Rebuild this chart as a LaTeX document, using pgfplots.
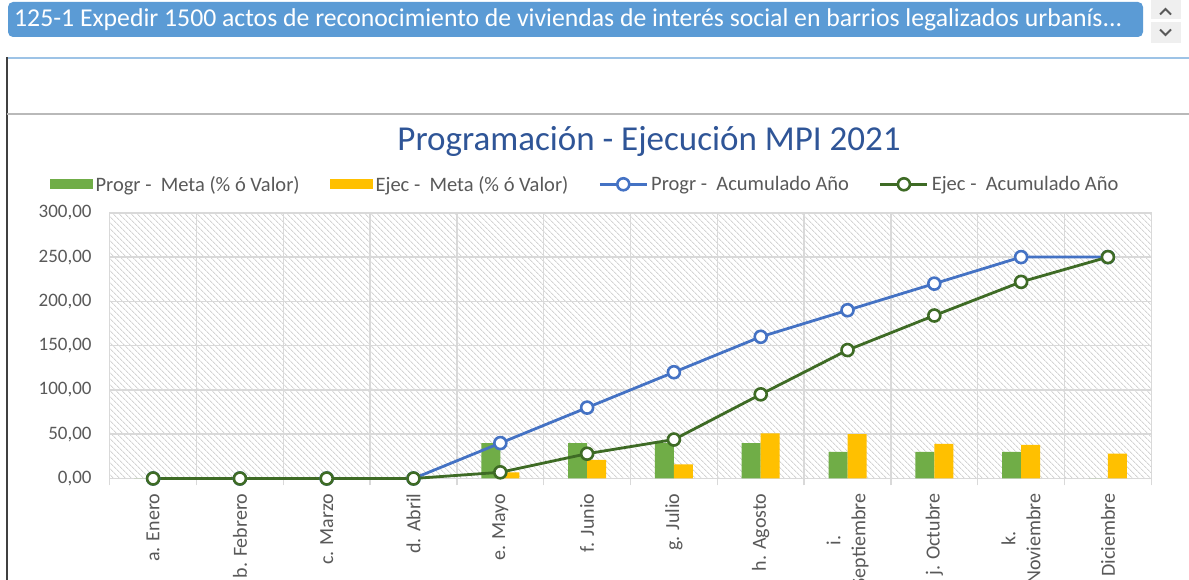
\documentclass[border=0pt]{standalone}
\usepackage{pgfplots}
\pgfplotsset{compat=1.18}
\usepackage{fontspec}
\setmainfont{Carlito}
\usetikzlibrary{patterns.meta}
\definecolor{barGreen}{HTML}{70AD47}
\definecolor{barYellow}{HTML}{FFC000}
\definecolor{lnBlue}{HTML}{4472C4}
\definecolor{lnGreen}{HTML}{3E6B25}
\definecolor{titleBlue}{HTML}{2F5597}
\definecolor{headBlue}{HTML}{5B9BD5}
\definecolor{sepBlue}{HTML}{9DC3E6}
\definecolor{gridGray}{HTML}{D9D9D9}
\definecolor{hatchGray}{HTML}{D4D4D4}
\definecolor{txtGray}{HTML}{595959}
\definecolor{btnGray}{HTML}{EFEFEF}
\newlength\hdrw
\pgfplotsset{
 barleg/.style={legend image code/.code={\fill[##1] (0pt,-5pt) rectangle (43pt,5pt);}},
 lineleg/.style={legend image code/.code={\draw[mark repeat=2,mark phase=2,##1] plot coordinates {(0pt,0pt) (23.5pt,0pt) (47pt,0pt)};}},
}
\newcommand\hdrtext{125-1 Expedir 1500 actos de reconocimiento de viviendas de interés social en barrios legalizados urbanís...}
\begin{document}
\settowidth{\hdrw}{\fontsize{10}{12}\selectfont\hdrtext}%
\pgfmathsetmacro\hdrfs{10*1108/\hdrw}%
\begin{tikzpicture}[x=1pt,y=1pt]
\useasboundingbox (0,0) rectangle (1189,580);
\clip (0,0) rectangle (1189,580);
\fill[white] (0,0) rectangle (1189,580);
% header bar
\fill[headBlue, rounded corners=5pt] (8,543) rectangle (1143,578);
\node[anchor=west, text=white, font=\fontsize{\hdrfs}{\hdrfs}\selectfont, inner sep=0] at (14,560.5) {\hdrtext};
\fill[btnGray] (1151,561) rectangle (1181,580);
\fill[btnGray] (1151,537) rectangle (1181,558);
\draw[txtGray, line width=2pt] (1160,565.5)--(1165.5,571)--(1171,565.5);
\draw[txtGray, line width=2pt] (1160,550.5)--(1165.5,545)--(1171,550.5);
% separators
\draw[sepBlue, line width=2pt] (8,522.3) -- (1189,522.3);
\draw[black!75, line width=1.5pt] (7,523) -- (7,0);
\draw[gray!55, line width=2pt] (7,465.5) -- (1189,465.5);
% title
\node[anchor=base, text=titleBlue, font=\fontsize{35}{42}\selectfont, inner sep=0] at (649,429) {Programación - Ejecución MPI 2021};
\begin{axis}[
 at={(126.4,114.6)}, anchor=south west, scale only axis,
 width=1041.6pt, height=265.7pt,
 xmin=-0.5, xmax=11.5, ymin=0, ymax=300,
 xtick={0,...,11},
 xticklabels={a. Enero, b. Febrero, c. Marzo, d. Abril, e. Mayo, f. Junio, g. Julio, h. Agosto, {i.\\Septiembre}, j. Octubre, {k.\\Noviembre}, l. Diciembre},
 minor xtick={-0.5,0.5,...,11.5},
 ytick={0,50,...,300},
 xtick pos=lower, ytick pos=left,
 major tick length=0pt, minor tick length=7pt, tick align=outside,
 ymajorgrids, xminorgrids,
 grid style={gridGray, line width=1.5pt},
 minor grid style={gridGray, line width=1.5pt},
 axis line style={gridGray, line width=1.5pt},
 minor tick style={gridGray, line width=1.5pt},
 tick label style={text=txtGray},
 yticklabel={\pgfmathprintnumber[fixed,fixed zerofill,precision=2,use comma,1000 sep={},assume math mode=true]{\tick}},
 yticklabel style={font=\fontsize{19}{23}\selectfont, inner xsep=18pt},
 xticklabel style={rotate=90, anchor=east, align=center, inner xsep=15pt, font=\fontsize{20}{25}\selectfont},
 axis background/.style={fill=white, postaction={pattern={Lines[angle=-45,distance=4pt,line width=1pt]}, pattern color=hatchGray}},
 legend style={at={(0.4568,1.1073)}, anchor=center, draw=none, fill=none,
   legend columns=4, font=\fontsize{20.5}{24}\selectfont, text=txtGray,
   /tikz/every even column/.append style={column sep=27pt}, nodes={inner sep=2pt, inner xsep=3pt}},
 clip=false,
]
\addplot[ybar, bar width=19pt, bar shift=-9.5pt, fill=barGreen, draw=none, barleg] coordinates {
 (0,0) (1,0) (2,0) (3,0) (4,40) (5,40) (6,40) (7,40) (8,30) (9,30) (10,30) (11,0)};
\addlegendentry{Progr -~ Meta (\% ó Valor)}
\addplot[ybar, bar width=19pt, bar shift=9.5pt, fill=barYellow, draw=none, barleg] coordinates {
 (0,0) (1,0) (2,0) (3,0) (4,7) (5,21) (6,16) (7,51) (8,50) (9,39) (10,38) (11,28)};
\addlegendentry{Ejec -~ Meta (\% ó Valor)}
\addplot[lnBlue, line width=2.8pt, mark=*, mark size=6pt, mark options={fill=white, draw=lnBlue, line width=2.6pt}, lineleg] coordinates {
 (0,0) (1,0) (2,0) (3,0) (4,40) (5,80) (6,120) (7,160) (8,190) (9,220) (10,250) (11,250)};
\addlegendentry{Progr -~ Acumulado Año}
\addplot[lnGreen, line width=2.8pt, mark=*, mark size=6pt, mark options={fill=white, draw=lnGreen, line width=2.6pt}, lineleg] coordinates {
 (0,0) (1,0) (2,0) (3,0) (4,7) (5,28) (6,44) (7,95) (8,145) (9,184) (10,222) (11,250)};
\addlegendentry{Ejec -~ Acumulado Año}
\end{axis}
\end{tikzpicture}
\end{document}
